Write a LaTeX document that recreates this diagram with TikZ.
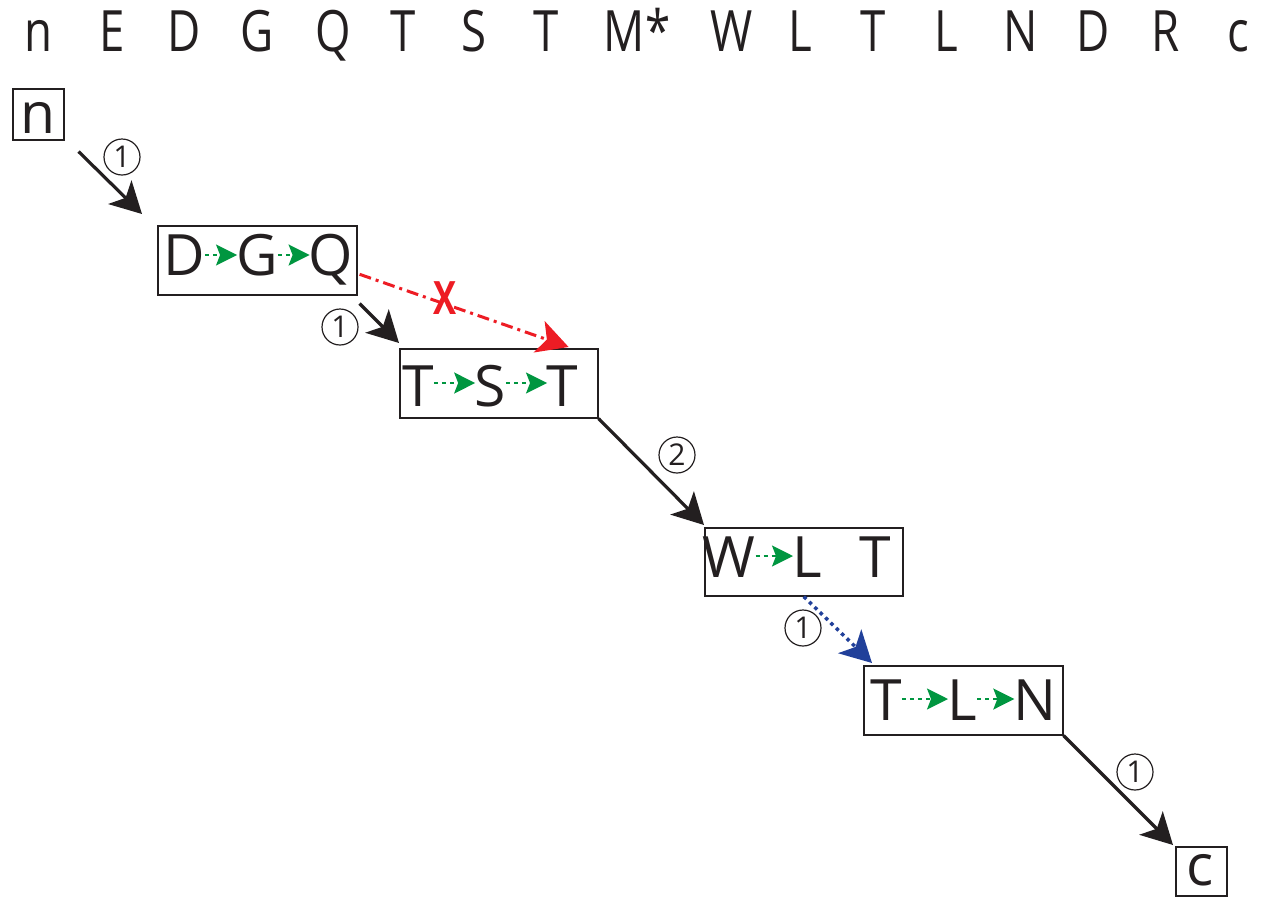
\documentclass[tikz,border=0pt]{standalone}
\usepackage{fontspec}
\setmainfont{Open Sans}
\newfontfamily\condfont[FakeStretch=0.8]{Open Sans}
\newfontfamily\xfont[FakeStretch=0.75]{Open Sans}
\usetikzlibrary{arrows.meta,calc}
\definecolor{ared}{RGB}{237,28,36}
\definecolor{ablue}{RGB}{33,64,154}
\definecolor{agreen}{RGB}{0,150,64}
\definecolor{ablack}{RGB}{35,31,32}
\begin{document}
\begin{tikzpicture}[x=1pt,y=-1pt,
  box/.style={draw=ablack, line width=1.6pt, inner sep=0pt, anchor=north west},
  let/.style={font=\fontsize{57}{57}\selectfont, inner sep=0pt, anchor=base, text=ablack},
  toplet/.style={font=\condfont\fontsize{57}{57}\selectfont, inner sep=0pt, anchor=base, text=ablack},
  circ/.style={circle, draw=ablack, line width=1.2pt, minimum size=36pt, inner sep=0pt, font=\fontsize{30}{30}\selectfont, text=ablack},
  mainarrow/.style={line width=3.2pt, draw=ablack, -{Stealth[length=31pt,width=33pt,inset=8pt]}},
  redarrow/.style={line width=3pt, draw=ared, dash pattern=on 12pt off 5pt on 3pt off 5pt, -{Stealth[length=31pt,width=33pt,inset=8pt,fill=ared]}},
  bluearrow/.style={line width=3.5pt, draw=ablue, dash pattern=on 3.5pt off 4pt, -{Stealth[length=31pt,width=33pt,inset=8pt,fill=ablue]}},
  garrow/.style={line width=2pt, draw=agreen, dash pattern=on 4pt off 4pt, -{Stealth[length=21pt,width=21pt,inset=4pt,fill=agreen]}}
]
\useasboundingbox (0,0) rectangle (1265,898);

% top row
\node[toplet] (t1) at (38,51) {n};
\node[toplet] (t2) at (112,51) {E};
\node[toplet] (t3) at (184,51) {D};
\node[toplet] (t4) at (257,51) {G};
\node[toplet] (t5) at (333,51) {Q};
\node[toplet] (t6) at (403,51) {T};
\node[toplet] (t7) at (474,51) {S};
\node[toplet] (t8) at (546,51) {T};
\node[toplet] (t9) at (637,51) {M*};
\node[toplet] (t10) at (732,51) {W};
\node[toplet] (t11) at (800,51) {L};
\node[toplet] (t12) at (873,51) {T};
\node[toplet] (t13) at (946,51) {L};
\node[toplet] (t14) at (1021,51) {N};
\node[toplet] (t15) at (1093,51) {D};
\node[toplet] (t16) at (1166,51) {R};
\node[toplet] (t17) at (1238,51) {c};

% boxes
\node[box, minimum width=51pt, minimum height=51pt] (bn) at (12,88) {};
\node[box, minimum width=199pt, minimum height=69pt] (bdgq) at (157,225) {};
\node[box, minimum width=198pt, minimum height=69pt] (btst) at (399,348) {};
\node[box, minimum width=198pt, minimum height=68pt] (bwlt) at (704,527) {};
\node[box, minimum width=199pt, minimum height=69pt] (btln) at (863,665) {};
\node[box, minimum width=51pt, minimum height=49pt] (bc) at (1175,846) {};

% letters in boxes
\node[let] (ln) at (38,133) {n};
\node[let] (d1) at (184,275) {D};
\node[let] (g1) at (257,275) {G};
\node[let] (q1) at (331,275) {Q};
\node[let] (ta) at (418,406) {T};
\node[let] (s2) at (490,406) {S};
\node[let] (tb) at (562,406) {T};
\node[let] (w3) at (729,577) {W};
\node[let] (l3) at (807,577) {L};
\node[let] (t3b) at (875,577) {T};
\node[let] (t4a) at (886,720) {T};
\node[let] (l4) at (962,720) {L};
\node[let] (n4) at (1035,720) {N};
\node[let] (lc) at (1200,885) {c};

% green inner arrows
\draw[garrow] ($(d1.base east)+(0,-20)$) -- ($(g1.base west)+(1,-20)$);
\draw[garrow] ($(g1.base east)+(0,-20)$) -- ($(q1.base west)+(1,-20)$);
\draw[garrow] ($(ta.base east)+(0,-23)$) -- ($(s2.base west)+(1,-23)$);
\draw[garrow] ($(s2.base east)+(0,-23)$) -- ($(tb.base west)+(1,-23)$);
\draw[garrow] ($(w3.base east)+(0,-21)$) -- ($(l3.base west)+(1,-21)$);
\draw[garrow] ($(t4a.base east)+(0,-21)$) -- ($(l4.base west)+(1,-21)$);
\draw[garrow] ($(l4.base east)+(0,-21)$) -- ($(n4.base west)+(1,-21)$);

% connectors
\draw[mainarrow] ($(bn.south east)+(14,11)$) -- ($(bdgq.north west)+(-15,-11)$);
\draw[mainarrow] ($(bdgq.south east)+(2,8)$) -- ($(btst.north west)+(0,-5)$);
\draw[redarrow] ($(bdgq.east)+(2,14)$) -- ($(btst.north east)+(-30,-1)$);
\draw[mainarrow] (btst.south east) -- ($(bwlt.north west)+(0,-2)$);
\draw[bluearrow] (bwlt.south) -- ($(btln.north west)+(9,-2)$);
\draw[mainarrow] (btln.south east) -- ($(bc.north west)+(-2,-1)$);

% labels
\node[circ] (c1) at (122,157) {1};
\node[circ] (c2) at (340,327) {1};
\node[circ] (c3) at (677,455) {2};
\node[circ] (c4) at (803,628) {1};
\node[circ] (c5) at (1135,772) {1};
\node[text=ared, font=\xfont\bfseries\fontsize{46}{46}\selectfont, inner sep=0pt, anchor=base] (xx) at (445,314) {X};
\end{tikzpicture}
\end{document}
